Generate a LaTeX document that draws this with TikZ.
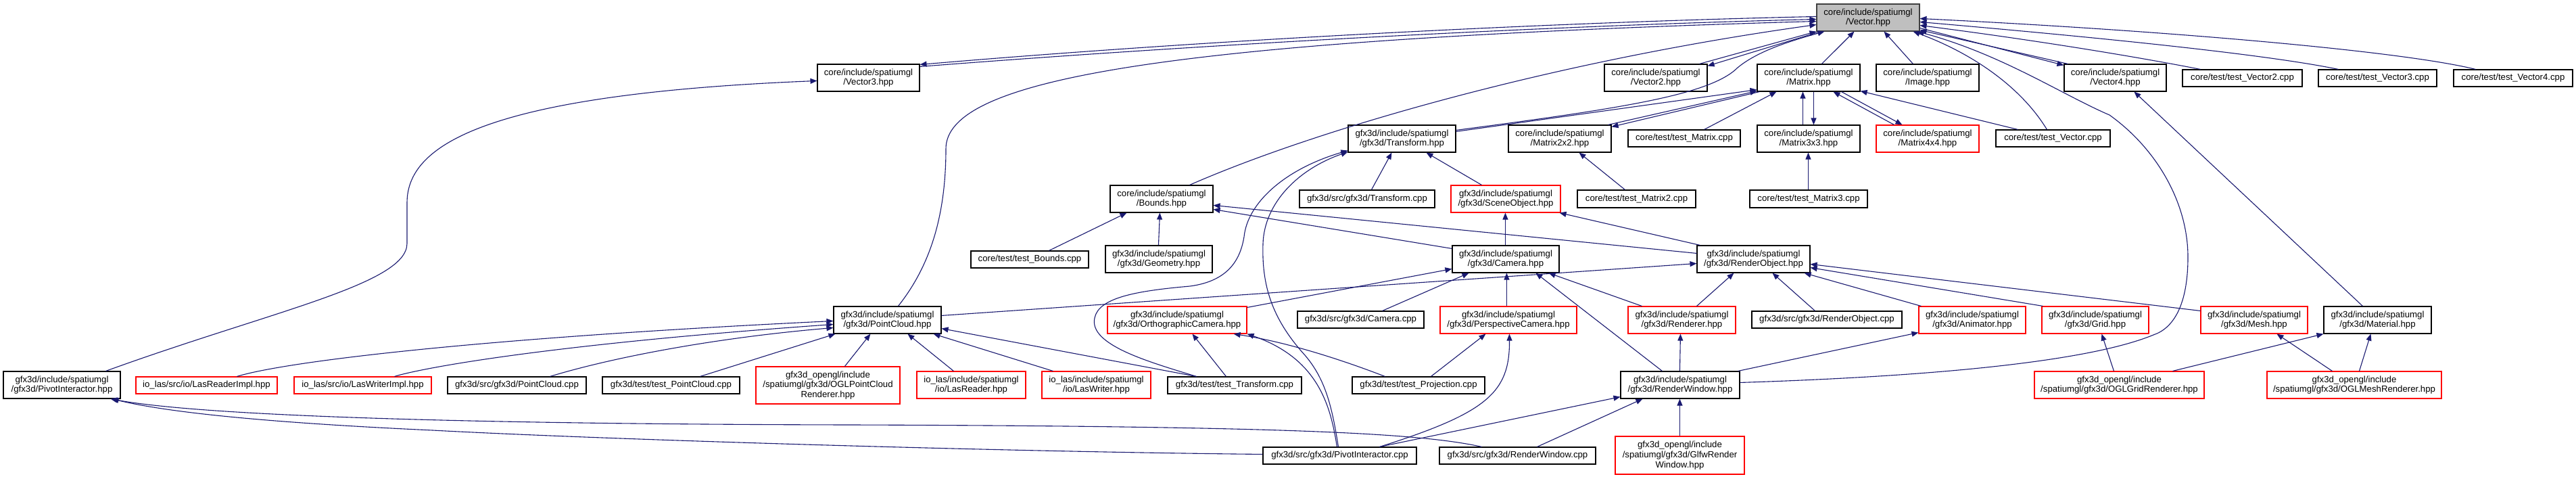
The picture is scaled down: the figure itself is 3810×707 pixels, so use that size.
\documentclass[tikz,border=0pt]{standalone}
\usepackage{fontspec}
\setmainfont{Liberation Sans}
\usetikzlibrary{arrows.meta,calc}
\definecolor{edgeblue}{HTML}{191970}
\definecolor{nodered}{HTML}{FF0000}
\definecolor{rootfill}{HTML}{BFBFBF}
\definecolor{gborder}{HTML}{404040}
\newcommand{\lft}[1]{#1\hfill\null}
\begin{document}
\begin{tikzpicture}[x=1pt,y=-1pt,
  base/.style={draw, line width=1.1pt, inner sep=0pt, align=center, font=\fontsize{13.2}{14.6}\selectfont, fill=white},
  nbox/.style={base, draw=black},
  rbox/.style={base, draw=nodered},
  gbox/.style={base, draw=gborder, fill=rootfill},
  h1/.style={minimum height=25pt},
  h2/.style={minimum height=40pt},
  h3/.style={minimum height=55pt},
  conn/.style={draw=edgeblue, line width=1.1pt, -{Triangle[length=10pt,width=8pt]}}
]
\useasboundingbox (0,0) rectangle (3810,707);
\fill[white] (0,0) rectangle (3810,707);

% row 0
\node[gbox,h2,minimum width=152pt] (vec) at (2763,26) {\lft{core/include/spatiumgl}\\/Vector.hpp};
% row 1
\node[nbox,h2,minimum width=151pt] (vec3) at (1284.5,115) {\lft{core/include/spatiumgl}\\/Vector3.hpp};
\node[nbox,h2,minimum width=152pt] (vec2) at (2449,115) {\lft{core/include/spatiumgl}\\/Vector2.hpp};
\node[nbox,h2,minimum width=152pt] (mat) at (2675,115) {\lft{core/include/spatiumgl}\\/Matrix.hpp};
\node[nbox,h2,minimum width=152pt] (img) at (2851,115) {\lft{core/include/spatiumgl}\\/Image.hpp};
\node[nbox,h2,minimum width=151pt] (vec4) at (3128.5,115) {\lft{core/include/spatiumgl}\\/Vector4.hpp};
\node[nbox,h1,minimum width=177pt] (tv2) at (3316.5,115.5) {core/test/test\_Vector2.cpp};
\node[nbox,h1,minimum width=175pt] (tv3) at (3516.5,115.5) {core/test/test\_Vector3.cpp};
\node[nbox,h1,minimum width=176pt] (tv4) at (3717,115.5) {core/test/test\_Vector4.cpp};
% row 2
\node[nbox,h2,minimum width=159pt] (trf) at (2073.5,205) {\lft{gfx3d/include/spatiumgl}\\/gfx3d/Transform.hpp};
\node[nbox,h2,minimum width=152pt] (m22) at (2307,205) {\lft{core/include/spatiumgl}\\/Matrix2x2.hpp};
\node[nbox,h1,minimum width=166pt] (tmat) at (2491,204.5) {core/test/test\_Matrix.cpp};
\node[nbox,h2,minimum width=152pt] (m33) at (2675,205) {\lft{core/include/spatiumgl}\\/Matrix3x3.hpp};
\node[rbox,h2,minimum width=152pt] (m44) at (2851,205) {\lft{core/include/spatiumgl}\\/Matrix4x4.hpp};
\node[nbox,h1,minimum width=169pt] (tvec) at (3036.5,204.5) {core/test/test\_Vector.cpp};
% row 3
\node[nbox,h2,minimum width=152pt] (bnd) at (1718,294) {\lft{core/include/spatiumgl}\\/Bounds.hpp};
\node[nbox,minimum height=26pt,minimum width=200pt] (trfcpp) at (2022,294) {gfx3d/src/gfx3d/Transform.cpp};
\node[rbox,h2,minimum width=162pt] (scn) at (2227,294) {\lft{gfx3d/include/spatiumgl}\\/gfx3d/SceneObject.hpp};
\node[nbox,minimum height=26pt,minimum width=175pt] (tm2) at (2420.5,294) {core/test/test\_Matrix2.cpp};
\node[nbox,minimum height=26pt,minimum width=174pt] (tm3) at (2675,294) {core/test/test\_Matrix3.cpp};
% row 4
\node[nbox,h1,minimum width=174pt] (tbnd) at (1523,383.5) {core/test/test\_Bounds.cpp};
\node[nbox,h2,minimum width=158pt] (geo) at (1714,383) {\lft{gfx3d/include/spatiumgl}\\/gfx3d/Geometry.hpp};
\node[nbox,h2,minimum width=158pt] (cam) at (2227,383) {\lft{gfx3d/include/spatiumgl}\\/gfx3d/Camera.hpp};
\node[nbox,h2,minimum width=167pt] (rob) at (2593.5,383) {\lft{gfx3d/include/spatiumgl}\\/gfx3d/RenderObject.hpp};
% row 5
\node[nbox,h2,minimum width=159pt] (pc) at (1312.5,473) {\lft{gfx3d/include/spatiumgl}\\/gfx3d/PointCloud.hpp};
\node[rbox,h2,minimum width=206pt] (ortho) at (1741,473) {\lft{gfx3d/include/spatiumgl}\\/gfx3d/OrthographicCamera.hpp};
\node[nbox,h1,minimum width=187pt] (camcpp) at (2012.5,472.5) {gfx3d/src/gfx3d/Camera.cpp};
\node[rbox,h2,minimum width=202pt] (persp) at (2231,473) {\lft{gfx3d/include/spatiumgl}\\/gfx3d/PerspectiveCamera.hpp};
\node[rbox,h2,minimum width=159pt] (rndr) at (2487.5,473) {\lft{gfx3d/include/spatiumgl}\\/gfx3d/Renderer.hpp};
\node[nbox,h1,minimum width=222pt] (robcpp) at (2702,472.5) {gfx3d/src/gfx3d/RenderObject.cpp};
\node[rbox,h2,minimum width=158pt] (anim) at (2917,473) {\lft{gfx3d/include/spatiumgl}\\/gfx3d/Animator.hpp};
\node[rbox,h2,minimum width=158pt] (grid) at (3099,473) {\lft{gfx3d/include/spatiumgl}\\/gfx3d/Grid.hpp};
\node[rbox,h2,minimum width=158pt] (mesh) at (3334,473) {\lft{gfx3d/include/spatiumgl}\\/gfx3d/Mesh.hpp};
\node[nbox,h2,minimum width=159pt] (matl) at (3516.5,473) {\lft{gfx3d/include/spatiumgl}\\/gfx3d/Material.hpp};
% row 6
\node[nbox,h2,minimum width=173pt] (pih) at (91.5,569) {\lft{gfx3d/include/spatiumgl}\\/gfx3d/PivotInteractor.hpp};
\node[rbox,h1,minimum width=209pt] (lri) at (305.5,569.5) {io\_las/src/io/LasReaderImpl.hpp};
\node[rbox,h1,minimum width=203pt] (lwi) at (536.5,569.5) {io\_las/src/io/LasWriterImpl.hpp};
\node[nbox,h1,minimum width=205pt] (pccpp) at (764.5,569.5) {gfx3d/src/gfx3d/PointCloud.cpp};
\node[nbox,h1,minimum width=203pt] (tpc) at (992.5,569.5) {gfx3d/test/test\_PointCloud.cpp};
\node[rbox,h3,minimum width=213pt] (oglpc) at (1224.5,569.5) {\lft{gfx3d\_opengl/include}\\\lft{/spatiumgl/gfx3d/OGLPointCloud}\\Renderer.hpp};
\node[rbox,h2,minimum width=161pt] (lr) at (1436.5,569) {\lft{io\_las/include/spatiumgl}\\/io/LasReader.hpp};
\node[rbox,h2,minimum width=161pt] (lw) at (1621.5,569) {\lft{io\_las/include/spatiumgl}\\/io/LasWriter.hpp};
\node[nbox,h1,minimum width=198pt] (ttrf) at (1826,569.5) {gfx3d/test/test\_Transform.cpp};
\node[nbox,h1,minimum width=196pt] (tproj) at (2098,569.5) {gfx3d/test/test\_Projection.cpp};
\node[nbox,h2,minimum width=176pt] (rw) at (2485,569) {\lft{gfx3d/include/spatiumgl}\\/gfx3d/RenderWindow.hpp};
\node[rbox,h2,minimum width=251pt] (oglgrid) at (3134.5,569) {\lft{gfx3d\_opengl/include}\\/spatiumgl/gfx3d/OGLGridRenderer.hpp};
\node[rbox,h2,minimum width=258pt] (oglmesh) at (3482,569) {\lft{gfx3d\_opengl/include}\\/spatiumgl/gfx3d/OGLMeshRenderer.hpp};
% row 7
\node[nbox,h1,minimum width=227pt] (picpp) at (1981.5,673.5) {gfx3d/src/gfx3d/PivotInteractor.cpp};
\node[nbox,h1,minimum width=231pt] (rwcpp) at (2244.5,673.5) {gfx3d/src/gfx3d/RenderWindow.cpp};
\node[rbox,minimum height=56pt,minimum width=191pt] (glfw) at (2484.5,673) {\lft{gfx3d\_opengl/include}\\\lft{/spatiumgl/gfx3d/GlfwRender}\\Window.hpp};

% ---- connectors into Vector.hpp
\draw[conn] ($(vec3.north east)+(0,4)$) .. controls (1800,64) and (2300,38) .. ($(vec.north west)+(0,23)$);
\draw[conn] ($(vec.north west)+(0,19)$) .. controls (2300,33) and (1800,58) .. ($(vec3.north east)+(0,1)$);
\draw[conn] ($(pc.north west)+(96,0)$) .. controls (1370,400) and (1399,330) .. (1399,220) .. controls (1399,120) and (1700,60) .. ($(vec.north west)+(0,26)$);
\draw[conn] ($(bnd.north west)+(118,0)$) .. controls (1950,190) and (2300,90) .. ($(vec.north west)+(0,31)$);
\draw[conn] ($(vec2.north east)+(-12,0)$) -- (vec.south west);
\draw[conn] ($(vec.south west)+(6,0)$) -- ($(vec2.north east)+(0,3)$);
\draw[conn] ($(trf.north east)+(0,8)$) .. controls (2400,160) and (2530,140) .. (2570,100) .. controls (2600,75) and (2650,60) .. ($(vec.south west)+(12,0)$);
\draw[conn] ($(mat.north west)+(96,0)$) -- ($(vec.south west)+(56,0)$);
\draw[conn] ($(img.north west)+(55,0)$) -- ($(vec.south west)+(100,0)$);
\draw[conn] ($(tv4.north west)+(33,0)$) .. controls (3550,75) and (3200,45) .. ($(vec.north east)+(0,22)$);
\draw[conn] ($(tv3.north west)+(30,0)$) .. controls (3350,80) and (3100,55) .. ($(vec.north east)+(0,27)$);
\draw[conn] ($(tv2.north west)+(27,0)$) .. controls (3150,82) and (3000,58) .. ($(vec.north east)+(0,32)$);
\draw[conn] ($(vec.north east)+(0,36)$) -- ($(vec4.north west)+(0,2)$);
\draw[conn] ($(vec4.north west)+(6,0)$) -- ($(vec.north east)+(0,39)$);
\draw[conn] ($(tvec.north west)+(76,0)$) .. controls (2990,130) and (2920,80) .. ($(vec.south east)+(-10,0)$);
\draw[conn] ($(rw.north east)+(0,17)$) .. controls (2900,555) and (3100,530) .. (3185,495) .. controls (3215,485) and (3236,450) .. (3236,380) .. controls (3236,300) and (3190,220) .. (3120,170) .. controls (3050,140) and (2960,80) .. ($(vec.south east)+(-4,0)$);
\draw[conn] ($(matl.north west)+(58,0)$) -- ($(vec4.south west)+(104,0)$);
\draw[conn] ($(pih.north west)+(152,0)$) .. controls (400,460) and (602,420) .. (602,360) -- (602,300) .. controls (602,220) and (700,140) .. ($(vec3.north west)+(0,25)$);

% ---- Matrix family
\draw[conn] ($(trf.north east)+(0,10)$) -- ($(mat.south west)+(0,-3)$);
\draw[conn] ($(m22.north east)+(-5,0)$) -- ($(mat.south west)+(0,-1)$);
\draw[conn] ($(mat.south west)+(4,0)$) -- ($(m22.north east)+(0,3)$);
\draw[conn] ($(tmat.north east)+(-54,0)$) -- ($(mat.south west)+(29,0)$);
\draw[conn] ($(mat.south west)+(84,0)$) -- ($(m33.north west)+(84,0)$);
\draw[conn] ($(m33.north west)+(68,0)$) -- ($(mat.south west)+(68,0)$);
\draw[conn] ($(mat.south west)+(125,0)$) -- ($(m44.north west)+(39,0)$);
\draw[conn] ($(m44.north west)+(27,0)$) -- ($(mat.south west)+(113,0)$);
\draw[conn] ($(tm3.north west)+(87,0)$) -- ($(m33.south west)+(76,0)$);
\draw[conn] ($(tvec.north west)+(33,0)$) -- ($(mat.south east)+(0,-1)$);
\draw[conn] ($(tm2.north west)+(71,0)$) -- ($(m22.south west)+(105,0)$);

% ---- Transform / SceneObject
\draw[conn] ($(scn.north west)+(46,0)$) -- ($(trf.south west)+(116,0)$);
\draw[conn] ($(trfcpp.north west)+(107,0)$) -- ($(trf.south west)+(65,0)$);
\draw[conn] ($(ttrf.north west)+(43,0)$) .. controls (1700,535) and (1610,510) .. (1619,470) .. controls (1625,440) and (1680,430) .. (1760,423) .. controls (1820,415) and (1835,380) .. (1840,350) .. controls (1845,300) and (1900,250) .. ($(trf.south west)+(0,-3)$);
\draw[conn] ($(picpp.north west)+(112,0)$) .. controls (1970,600) and (1960,560) .. (1930,525) .. controls (1880,470) and (1866,420) .. (1868,360) .. controls (1870,300) and (1920,250) .. ($(trf.south west)+(0,-1)$);

% ---- Bounds
\draw[conn] ($(tbnd.north west)+(116,0)$) -- ($(bnd.south west)+(25,0)$);
\draw[conn] ($(geo.north west)+(79,0)$) -- ($(bnd.south west)+(74,0)$);
\draw[conn] ($(cam.north west)+(0,5)$) -- ($(bnd.north east)+(0,36)$);
\draw[conn] ($(rob.north west)+(0,12)$) -- ($(bnd.north east)+(0,30)$);

% ---- Camera
\draw[conn] ($(cam.north west)+(79,0)$) -- ($(scn.south west)+(81,0)$);
\draw[conn] ($(ortho.north east)+(0,2)$) -- ($(cam.north west)+(0,35)$);
\draw[conn] ($(camcpp.north west)+(126,0)$) -- ($(cam.south west)+(25,0)$);
\draw[conn] ($(persp.north west)+(99,0)$) -- ($(cam.south west)+(81,0)$);
\draw[conn] ($(rw.north west)+(62,0)$) -- ($(cam.south west)+(124,0)$);
\draw[conn] ($(rndr.north west)+(21,0)$) -- ($(cam.south east)+(-16,0)$);

% ---- RenderObject
\draw[conn] ($(rob.north west)+(5,0)$) -- ($(scn.south east)+(-2,0)$);
\draw[conn] ($(pc.north east)+(0,14)$) -- ($(rob.north west)+(0,27)$);
\draw[conn] ($(robcpp.north west)+(94,0)$) -- ($(rob.south west)+(112,0)$);
\draw[conn] ($(anim.north west)+(4,0)$) -- ($(rob.south east)+(-9,0)$);
\draw[conn] ($(grid.north west)+(2,0)$) -- ($(rob.south east)+(0,-8)$);
\draw[conn] ($(mesh.north west)+(0,7)$) -- ($(rob.north east)+(0,28)$);
\draw[conn] ($(rndr.north west)+(102,0)$) -- ($(rob.south west)+(55,0)$);

% ---- PointCloud
\draw[conn] ($(lri.north west)+(150,0)$) .. controls (420,535) and (700,500) .. ($(pc.north west)+(0,22)$);
\draw[conn] ($(lwi.north west)+(149,0)$) .. controls (620,545) and (800,510) .. ($(pc.north west)+(0,27)$);
\draw[conn] ($(pccpp.north west)+(152,0)$) .. controls (900,530) and (1050,500) .. ($(pc.north west)+(0,32)$);
\draw[conn] ($(tpc.north west)+(145,0)$) -- ($(pc.south west)+(3,0)$);
\draw[conn] ($(oglpc.north west)+(132,0)$) -- ($(pc.south west)+(55,0)$);
\draw[conn] ($(lr.north west)+(55,0)$) -- ($(pc.south west)+(110,0)$);
\draw[conn] ($(lw.north west)+(17,0)$) -- ($(pc.south east)+(-12,0)$);
\draw[conn] ($(ttrf.north west)+(43,0)$) -- ($(pc.south east)+(0,-8)$);

% ---- Orthographic / Perspective
\draw[conn] ($(ttrf.north west)+(87,0)$) -- ($(ortho.south west)+(126,0)$);
\draw[conn] ($(tproj.north west)+(49,0)$) .. controls (1980,530) and (1900,505) .. ($(ortho.south east)+(-20,0)$);
\draw[conn] ($(picpp.north west)+(110,0)$) .. controls (1968,600) and (1950,530) .. (ortho.south east);
\draw[conn] ($(tproj.north west)+(117,0)$) -- ($(persp.south west)+(68,0)$);
\draw[conn] ($(picpp.north west)+(173,0)$) .. controls (2200,610) and (2233,580) .. ($(persp.south west)+(103,0)$);

% ---- RenderWindow
\draw[conn] ($(picpp.north west)+(173,0)$) -- ($(rw.south west)+(0,-3)$);
\draw[conn] ($(rwcpp.north west)+(145,0)$) -- ($(rw.south west)+(33,0)$);
\draw[conn] ($(glfw.north west)+(96,0)$) -- ($(rw.south west)+(88,0)$);
\draw[conn] ($(rw.north west)+(88,0)$) -- ($(rndr.south west)+(78,0)$);
\draw[conn] ($(rw.north east)+(-3,0)$) -- ($(anim.south west)+(0,-2)$);

% ---- PivotInteractor.hpp
\draw[conn] ($(rwcpp.north west)+(63,0)$) .. controls (2100,640) and (1900,630) .. (1260,628) .. controls (700,627) and (300,615) .. ($(pih.south east)+(-15,0)$);
\draw[conn] ($(picpp.north west)+(0,11)$) .. controls (1500,668) and (900,650) .. (640,636) .. controls (400,625) and (250,610) .. ($(pih.south east)+(-13,0)$);

% ---- OpenGL renderers
\draw[conn] ($(oglgrid.north west)+(118,0)$) -- ($(grid.south west)+(89,0)$);
\draw[conn] ($(oglgrid.north west)+(205,0)$) -- (matl.south west);
\draw[conn] ($(oglmesh.north west)+(97,0)$) -- ($(mesh.south west)+(113,0)$);
\draw[conn] ($(oglmesh.north west)+(137,0)$) -- ($(matl.south west)+(70,0)$);
\end{tikzpicture}
\end{document}
